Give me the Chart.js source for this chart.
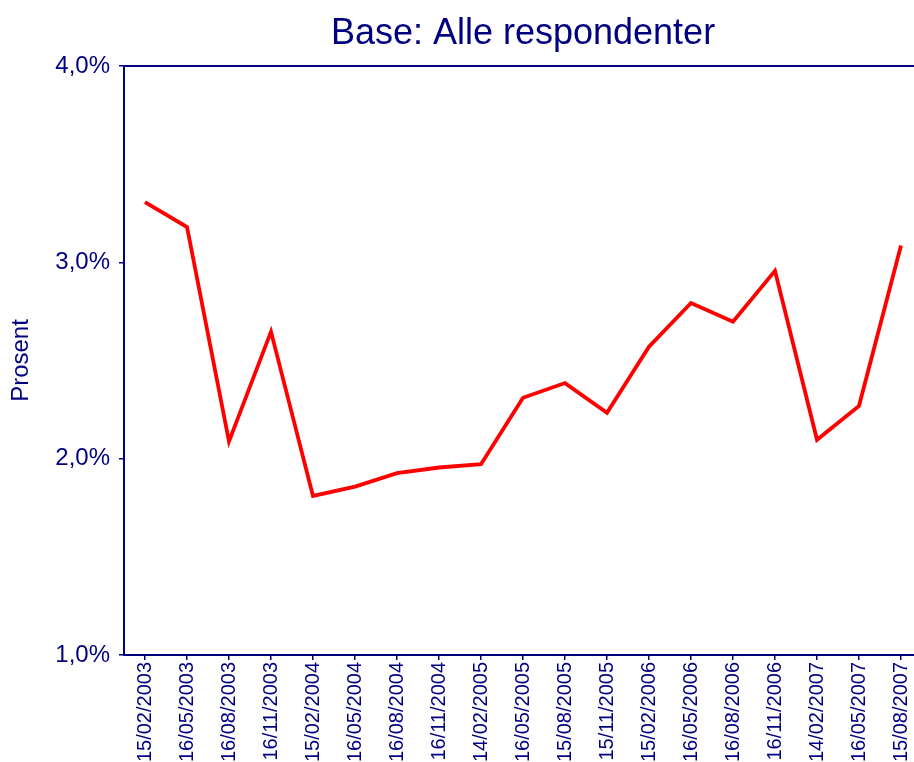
<!DOCTYPE html>
<html>
<head>
<meta charset="utf-8">
<script src="https://cdn.jsdelivr.net/npm/chart.js@4/dist/chart.umd.min.js"></script>
<style>
  html, body { margin: 0; padding: 0; background: #fff; overflow: hidden; width: 914px; height: 762px; }
  canvas { display: block; }
</style>
</head>
<body>
<canvas id="c" width="922" height="762" style="width:922px;height:762px"></canvas>
<script>
const categories = ["15/02/2003","16/05/2003","16/08/2003","16/11/2003","15/02/2004","16/05/2004","16/08/2004","16/11/2004","14/02/2005","16/05/2005","15/08/2005","15/11/2005","15/02/2006","16/05/2006","16/08/2006","16/11/2006","14/02/2007","16/05/2007","15/08/2007"];
const values = [3.307, 3.180, 2.088, 2.647, 1.810, 1.858, 1.926, 1.955, 1.972, 2.310, 2.385, 2.234, 2.570, 2.793, 2.698, 2.957, 2.096, 2.269, 3.086];
const yTicks = [1, 2, 3, 4];
const titleText = "Base: Alle respondenter";
const yTitle = "Prosent";

const NAVY = "#000080";
Chart.defaults.font.family = "'Liberation Sans', Arial, sans-serif";
Chart.defaults.color = NAVY;

new Chart(document.getElementById('c'), {
  type: 'line',
  data: {
    labels: categories,
    datasets: [{
      data: values,
      borderColor: '#ff0000',
      borderWidth: 3.8,
      pointRadius: 0,
      tension: 0,
      fill: false
    }]
  },
  options: {
    responsive: false,
    animation: false,
    devicePixelRatio: 1,
    layout: { padding: 0 },
    plugins: {
      legend: { display: false },
      tooltip: { enabled: false },
      title: {
        display: true,
        text: titleText,
        color: NAVY,
        fullSize: false,
        font: { size: 36, weight: 'normal' },
        padding: { top: 12, bottom: 10.8 }
      }
    },
    scales: {
      x: {
        type: 'category',
        offset: true,
        grid: { display: true, drawOnChartArea: false, drawTicks: true, tickLength: 5, color: NAVY, lineWidth: 1.5, offset: false },
        border: { display: true, color: NAVY, width: 2 },
        ticks: { autoSkip: false, minRotation: 90, maxRotation: 90, padding: 2, color: NAVY, font: { size: 20 } },
        afterFit: s => { s.height = 107; s.paddingLeft = 0; s.paddingRight = 0; }
      },
      xTop: {
        type: 'category',
        position: 'top',
        labels: categories,
        grid: { display: false, drawTicks: false },
        border: { display: true, color: NAVY, width: 2 },
        ticks: { display: false },
        afterFit: s => { s.height = 0; s.paddingLeft = 0; s.paddingRight = 0; }
      },
      y: {
        min: 1,
        max: 4,
        afterBuildTicks: s => { s.ticks = yTicks.map(v => ({ value: v })); },
        grid: { display: true, drawOnChartArea: false, drawTicks: true, tickLength: 5, color: NAVY, lineWidth: 1.5 },
        border: { display: true, color: NAVY, width: 2 },
        ticks: {
          padding: 9,
          color: NAVY,
          font: { size: 24 },
          callback: v => v.toFixed(1).replace('.', ',') + '%'
        },
        title: {
          display: true,
          text: yTitle,
          color: NAVY,
          font: { size: 24 },
          padding: { top: 7, bottom: 0 }
        },
        afterFit: s => { s.width = 124; }
      }
    }
  }
});
</script>
</body>
</html>
